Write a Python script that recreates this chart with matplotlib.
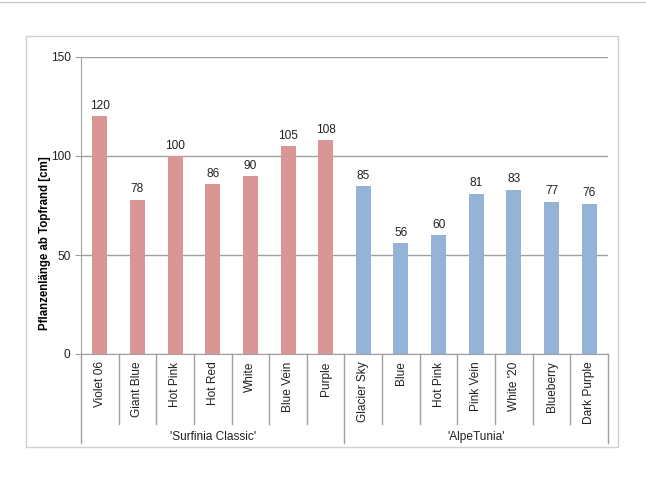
import matplotlib.pyplot as plt
from matplotlib.patches import Rectangle
from matplotlib.lines import Line2D

plt.rcParams['font.family'] = ['Liberation Sans', 'DejaVu Sans']

# Daten
sorten = ['Violet 06', 'Giant Blue', 'Hot Pink', 'Hot Red', 'White', 'Blue Vein', 'Purple',
          'Glacier Sky', 'Blue', 'Hot Pink', 'Pink Vein', "White '20", 'Blueberry', 'Dark Purple']
laenge = [120, 78, 100, 86, 90, 105, 108, 85, 56, 60, 81, 83, 77, 76]
gruppen = ["'Surfinia Classic'", "'AlpeTunia'"]
gruppen_anzahl = [7, 7]
farben = ['#D99694', '#95B3D7']

fs = 8.6
fig = plt.figure(figsize=(6.46, 4.84), dpi=100)
W, H = 646, 484

# Rahmen um das Diagramm
fig.patches.append(Rectangle((26 / W, 1 - 447 / H), 592 / W, 411 / H, transform=fig.transFigure,
                             fill=False, edgecolor='#D0D0D0', lw=1))
fig.add_artist(Line2D([0, 1], [1 - 2 / H, 1 - 2 / H], color='#C8C8C8', lw=1))

ax = fig.add_axes([81 / W, 1 - 354 / H, 527 / W, 297 / H])

x = list(range(len(sorten)))
col = []
for g, n in enumerate(gruppen_anzahl):
    col += [farben[g]] * n
bars = ax.bar(x, laenge, width=0.4, color=col, zorder=3)
ax.bar_label(bars, labels=[str(v) for v in laenge], padding=3, fontsize=fs, color='#222222')

ax.set_xlim(-0.5, len(sorten) - 0.5)
ax.set_ylim(0, 150)
ax.set_yticks([0, 50, 100, 150])
ax.tick_params(axis='y', labelsize=fs, length=4, color='#A0A0A0', labelcolor='#222222')
ax.grid(axis='y', color='#A0A0A0', lw=1, zorder=0)
ax.set_xticks([])
for s in ['top', 'right']:
    ax.spines[s].set_visible(False)
for s in ['left', 'bottom']:
    ax.spines[s].set_color('#A0A0A0')

ax.set_ylabel('Pflanzenlänge ab Topfrand [cm]', fontsize=8.3, fontweight='bold', va='center')
ax.yaxis.set_label_coords(-0.068, 0.374)

# Kategorienbeschriftung
trans = ax.get_xaxis_transform()
for i, name in enumerate(sorten):
    ax.text(i, -0.025, name, rotation=90, ha='center', va='top', fontsize=fs,
            color='#222222', transform=trans)

# Trennlinien
grenzen = [-0.5]
for n in gruppen_anzahl:
    grenzen.append(grenzen[-1] + n)
for i in range(len(sorten) + 1):
    xs = i - 0.5
    tief = -0.30 if xs in grenzen else -0.236
    ax.plot([xs, xs], [0, tief], color='#A0A0A0', lw=1, transform=trans, clip_on=False)

# Gruppenbeschriftung
for g, name in enumerate(gruppen):
    mitte = (grenzen[g] + grenzen[g + 1]) / 2
    ax.text(mitte, -0.278, name, ha='center', va='center', fontsize=fs,
            color='#222222', transform=trans)

fig.savefig('out.png', dpi=100)
